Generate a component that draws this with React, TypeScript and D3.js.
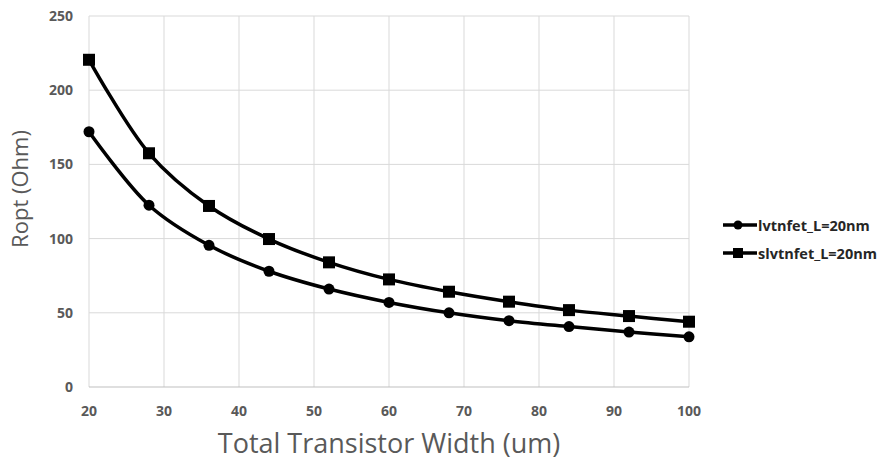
import React, {useRef, useEffect} from 'react';
import * as d3 from 'd3';

// data
const widths = [20, 28, 36, 44, 52, 60, 68, 76, 84, 92, 100];
const lvtValues = [172, 122.5, 95.5, 78, 66, 57, 50, 44.7, 40.7, 37, 33.8];
const slvtValues = [220.5, 157.5, 122, 99.7, 84, 72.5, 64.2, 57.5, 51.8, 47.8, 44];
const seriesNames = ['lvtnfet_L=20nm', 'slvtnfet_L=20nm'];
const xTicks = [20, 30, 40, 50, 60, 70, 80, 90, 100];
const yTicks = [0, 50, 100, 150, 200, 250];

const config = {
    w: 883,
    h: 461,
    left: 89,
    right: 689,
    top: 16,
    bottom: 387
};

const App = () => {
    const svgRef = useRef(null);

    useEffect(() => {
        const svg = d3.select(svgRef.current);
        svg.selectAll('*').remove();

        const xScale = d3.scaleLinear().domain([20, 100]).range([config.left, config.right]);
        const yScale = d3.scaleLinear().domain([0, 250]).range([config.bottom, config.top]);

        // grid
        svg.append('g').selectAll('line.h')
            .data(yTicks.filter(d => d > 0))
            .join('line')
            .attr('x1', config.left).attr('x2', config.right)
            .attr('y1', d => yScale(d)).attr('y2', d => yScale(d))
            .attr('stroke', '#d9d9d9').attr('stroke-width', 1);
        svg.append('g').selectAll('line.v')
            .data(xTicks)
            .join('line')
            .attr('x1', d => xScale(d)).attr('x2', d => xScale(d))
            .attr('y1', config.top).attr('y2', config.bottom)
            .attr('stroke', '#d9d9d9').attr('stroke-width', 1);
        // bottom axis line
        svg.append('line')
            .attr('x1', config.left).attr('x2', config.right)
            .attr('y1', config.bottom).attr('y2', config.bottom)
            .attr('stroke', '#bfbfbf').attr('stroke-width', 1);

        // tick labels
        svg.append('g').selectAll('text')
            .data(yTicks)
            .join('text')
            .attr('x', 73)
            .attr('y', d => yScale(d) + 5)
            .attr('text-anchor', 'end')
            .attr('font-family', 'Open Sans, sans-serif')
            .attr('font-weight', 'bold')
            .attr('font-size', 14)
            .attr('fill', '#595959')
            .text(d => d);
        svg.append('g').selectAll('text')
            .data(xTicks)
            .join('text')
            .attr('x', d => xScale(d))
            .attr('y', 416)
            .attr('text-anchor', 'middle')
            .attr('font-family', 'Open Sans, sans-serif')
            .attr('font-weight', 'bold')
            .attr('font-size', 14)
            .attr('fill', '#595959')
            .text(d => d);

        // axis titles
        svg.append('text')
            .attr('x', 389).attr('y', 453)
            .attr('text-anchor', 'middle')
            .attr('font-family', 'Open Sans, sans-serif')
            .attr('font-size', 27)
            .attr('fill', '#595959')
            .text('Total Transistor Width (um)');
        svg.append('text')
            .attr('transform', 'translate(28,189) rotate(-90)')
            .attr('text-anchor', 'middle')
            .attr('font-family', 'Open Sans, sans-serif')
            .attr('font-size', 22)
            .attr('fill', '#595959')
            .text('Ropt (Ohm)');

        const line = d3.line<number>()
            .x((d, i) => xScale(widths[i]))
            .y(d => yScale(d))
            .curve(d3.curveCatmullRom);

        const series = [lvtValues, slvtValues];
        series.forEach((vals, si) => {
            svg.append('path')
                .attr('d', line(vals))
                .attr('fill', 'none')
                .attr('stroke', '#000')
                .attr('stroke-width', 3.5);
            const g = svg.append('g');
            if (si === 0) {
                g.selectAll('circle').data(vals).join('circle')
                    .attr('cx', (d, i) => xScale(widths[i]))
                    .attr('cy', d => yScale(d))
                    .attr('r', 5.5)
                    .attr('fill', '#000');
            } else {
                g.selectAll('rect').data(vals).join('rect')
                    .attr('x', (d, i) => xScale(widths[i]) - 6)
                    .attr('y', d => yScale(d) - 6)
                    .attr('width', 12).attr('height', 12)
                    .attr('fill', '#000');
            }
        });

        // legend
        const leg = svg.append('g');
        seriesNames.forEach((name, i) => {
            const y = 225 + i * 28;
            leg.append('line')
                .attr('x1', 723).attr('x2', 757)
                .attr('y1', y).attr('y2', y)
                .attr('stroke', '#000').attr('stroke-width', 3.5);
            if (i === 0) {
                leg.append('circle').attr('cx', 738).attr('cy', y).attr('r', 4.5).attr('fill', '#000');
            } else {
                leg.append('rect').attr('x', 733).attr('y', y - 5).attr('width', 10).attr('height', 10).attr('fill', '#000');
            }
            leg.append('text')
                .attr('x', 758).attr('y', y + 5.5)
                .attr('font-family', 'Open Sans, sans-serif')
                .attr('font-weight', 'bold')
                .attr('font-size', 14.5)
                .attr('fill', '#262626')
                .text(name);
        });
    }, []);

    return (
        <svg ref={svgRef} width={config.w} height={config.h}
             style={{position: 'absolute', left: 0, top: 0, background: '#fff'}}></svg>
    );
};

export default App;
